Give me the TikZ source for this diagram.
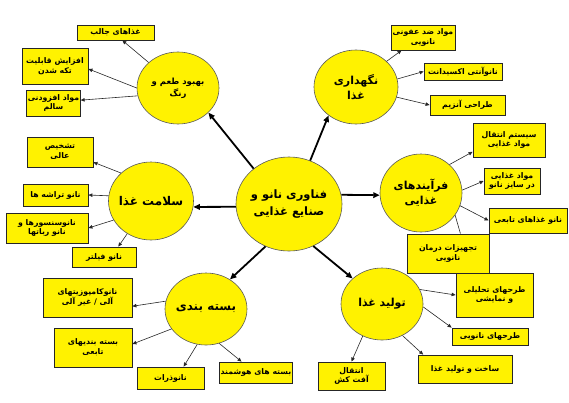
\documentclass[tikz,border=0pt]{standalone}
\usepackage{fontspec}
\newfontfamily\arabicfont[Script=Arabic]{DejaVu Sans}
\TeXXeTstate=1
\usetikzlibrary{arrows.meta,shapes.geometric}

\newcommand{\fa}[1]{{\arabicfont\bfseries\beginR #1\endR}}

\begin{document}
\begin{tikzpicture}[
  x=1pt, y=-1pt,
  core/.style={ellipse, draw=black!65, line width=0.6pt, fill=yellow,
               inner sep=0pt, align=center},
  topic/.style={core, minimum width=82pt, minimum height=72pt,
                font=\fontsize{11}{15}\selectfont},
  box/.style={rectangle, draw=black!85, line width=0.8pt, fill=yellow,
              inner sep=1pt, align=center, font=\fontsize{7.8}{9.6}\selectfont},
  main/.style={-{Triangle[length=6.5pt,width=5.5pt]}, line width=1.8pt, draw=black},
  link/.style={-{Triangle[length=4pt,width=3.5pt]}, line width=0.6pt, draw=black!85},
]
\useasboundingbox (0,0) rectangle (569,402);

% ---- centre and topic circles ----
\node[core, minimum width=106pt, minimum height=94pt, inner xsep=-3pt,
      font=\fontsize{11.5}{17}\selectfont] (hub) at (289,204)
      {\fa{فناوری نانو و}\\\fa{صنایع غذایی}};
\node[topic, font=\fontsize{8.5}{12}\selectfont] (taste) at (178,88) {\fa{بهبود طعم و}\\\fa{رنگ}};
\node[topic, minimum width=84pt, minimum height=74pt] (keep) at (356,87) {\fa{نگهداری}\\\fa{غذا}};
\node[topic, minimum width=85pt, minimum height=78pt, inner xsep=-5pt,
      font=\fontsize{12}{15}\selectfont] (health) at (151,201) {\fa{سلامت غذا}};
\node[topic, minimum height=78pt] (proc) at (421,193) {\fa{فرآیندهای}\\\fa{غذایی}};
\node[topic, inner xsep=-5pt, font=\fontsize{12}{15}\selectfont] (pack) at (206,309) {\fa{بسته بندی}};
\node[topic] (prod) at (382,304) {\fa{تولید غذا}};

% ---- boxes round taste ----
\node[box, minimum width=77pt, minimum height=15pt] (b1) at (115.5,32.5) {\fa{غذاهای جالب}};
\node[box, minimum width=66pt, minimum height=36pt] (b2) at (55,66) {\fa{افزایش قابلیت}\\\fa{تکه شدن}};
\node[box, minimum width=53pt, minimum height=26pt] (b3) at (53.5,103) {\fa{مواد افزودنی}\\\fa{سالم}};

% ---- boxes round keep ----
\node[box, minimum width=64pt, minimum height=25pt] (k1) at (423,37.5) {\fa{مواد ضد عفونی}\\\fa{نانویی}};
\node[box, minimum width=78pt, minimum height=17pt] (k2) at (463,71.5) {\fa{نانوآنتی اکسیدانت}};
\node[box, minimum width=75pt, minimum height=20pt] (k3) at (467.5,105) {\fa{طراحی آنزیم}};

% ---- boxes round proc ----
\node[box, minimum width=72pt, minimum height=34pt] (p1) at (509,140) {\fa{سیستم انتقال}\\\fa{مواد غذایی}};
\node[box, minimum width=56pt, minimum height=26pt] (p2) at (512,181) {\fa{مواد غذایی}\\\fa{در سایز نانو}};
\node[box, minimum width=78pt, minimum height=25pt] (p3) at (528,220.5) {\fa{نانو غذاهای تابعی}};
\node[box, minimum width=82pt, minimum height=39pt] (p4) at (448,253.5) {\fa{تجهیزات درمان}\\\fa{نانویی}};

% ---- boxes round prod ----
\node[box, minimum width=77pt, minimum height=44pt] (d1) at (494.5,295) {\fa{طرحهای تحلیلی}\\\fa{و نمایشی}};
\node[box, minimum width=76pt, minimum height=17pt] (d2) at (490,336.5) {\fa{طرحهای نانویی}};
\node[box, minimum width=94pt, minimum height=28pt] (d3) at (465,369) {\fa{ساخت و تولید غذا}};
\node[box, minimum width=67pt, minimum height=28pt] (d4) at (351.5,376) {\fa{انتقال}\\\fa{آفت کش}};

% ---- boxes round pack ----
\node[box, minimum width=89pt, minimum height=39pt] (s1) at (87.5,297.5) {\fa{نانوکامپوزیتهای}\\\fa{آلی / غیر آلی}};
\node[box, minimum width=78pt, minimum height=39pt] (s2) at (93,347.5) {\fa{بسته بندیهای}\\\fa{تابعی}};
\node[box, minimum width=67pt, minimum height=22pt] (s3) at (170.5,378) {\fa{نانوذرات}};
\node[box, minimum width=72pt, minimum height=21pt] (s4) at (256,372.5) {\fa{بسته های هوشمند}};

% ---- boxes round health ----
\node[box, minimum width=66pt, minimum height=30pt] (h1) at (60,152) {\fa{تشخیص}\\\fa{عالی}};
\node[box, minimum width=65pt, minimum height=22pt] (h2) at (55.5,195) {\fa{نانو تراشه ها}};
\node[box, minimum width=82pt, minimum height=30pt] (h3) at (47,228) {\fa{نانوسنسورها و}\\\fa{نانو رباتها}};
\node[box, minimum width=64pt, minimum height=20pt] (h4) at (104,257) {\fa{نانو فیلتر}};

% ---- main arrows ----
\draw[main] (hub.135) -- (taste.-39);
\draw[main] (hub.64)  -- (keep.-134);
\draw[main] (hub.10)  -- (proc.183);
\draw[main] (hub.183) -- (health.-8);
\draw[main] (hub.241) -- (pack.51);
\draw[main] (hub.-60) -- (prod.139);

% ---- small arrows ----
\draw[link] (taste.139) -- (b1.-49);
\draw[link] (taste.180) -- (b2.-5);
\draw[link] (taste.191) -- (b3.6);

\draw[link] (keep.40)  -- (k1.211);
\draw[link] (keep.11)  -- (k2.west);
\draw[link] (keep.-14) -- (k3.west);

\draw[link] (proc.45)  -- (p1.198);
\draw[link] (proc.4)   -- (p2.west);
\draw[link] (proc.-18) -- (p3.west);
\draw[line width=0.6pt, black!85] (proc.-33) -- (p4.58);

\draw[link] (prod.21)  -- (d1.west);
\draw[link] (prod.-4)  -- (d2.north west);
\draw[link] (prod.-57) -- (d3.161);
\draw[link] (prod.239) -- (d4.north);

\draw[link] (pack.169) -- (s1.-11);
\draw[link] (pack.210) -- (s2.5);
\draw[link] (pack.256) -- (s3.41);
\draw[link] (pack.-69) -- (s4.143);

\draw[link] (health.137) -- (h1.-17);
\draw[link] (health.173) -- (h2.east);
\draw[link] (health.207) -- (h3.east);
\draw[link] (health.234) -- (h4.36);

\end{tikzpicture}
\end{document}
